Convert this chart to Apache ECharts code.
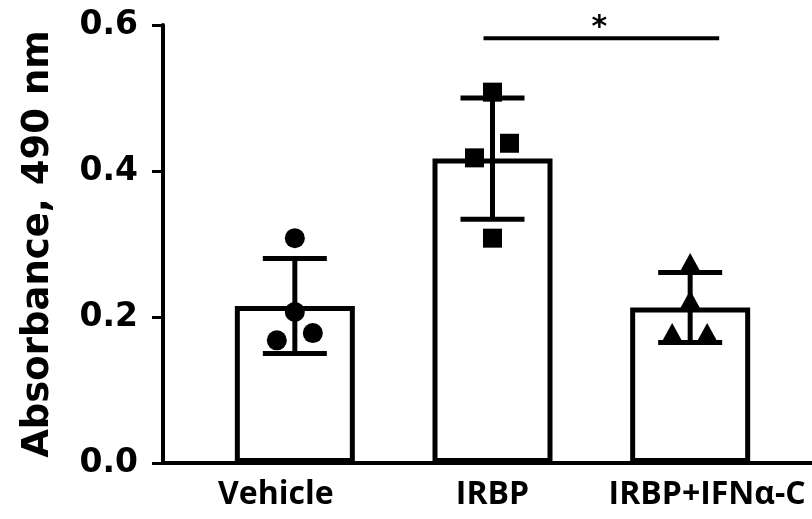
<!DOCTYPE html>
<html lang="en">
  <head>
    <meta charset="UTF-8" />
    <title>absorbance-bars</title>
    <style>
      body {
        margin: 0;
        background: #fff;
      }
      #chart {
        width: 812px;
        height: 519px;
      }
    </style>
    <script src="https://cdn.jsdelivr.net/npm/echarts@6/dist/echarts.min.js"></script>
  </head>
  <body>
    <div id="chart"></div>

    <script>
      // values
      const categories = ["Vehicle", "IRBP", "IRBP+IFNα-C"];
      const means = [0.215, 0.417, 0.213];
      const sds = [0.065, 0.083, 0.048];
      const vehiclePoints = [0.308, 0.207, 0.178, 0.168];
      const irbpPoints = [0.508, 0.438, 0.418, 0.308];
      const ifnPoints = [0.274, 0.223, 0.178, 0.178];
      const yTicks = [0, 0.2, 0.4, 0.6];
      const sigPair = [1, 2];
      const sigLevel = 0.582;
      const sigText = "*";

      // horizontal spread of the dots, px
      const jitter = [
        [0, 0, 18, -18],
        [0, 17, -18, 0],
        [0, 0, -18, 17],
      ];

      const chart = echarts.init(document.getElementById("chart"));

      const pointSeries = (pts, ci, symbol, size) => ({
        type: "scatter",
        xAxisIndex: 1,
        yAxisIndex: 1,
        symbol: symbol,
        symbolSize: size,
        itemStyle: { color: "#000", opacity: 1 },
        z: 5,
        data: pts.map((v, k) => ({
          value: [ci, v],
          symbolOffset: [jitter[ci][k], 0],
        })),
      });

      chart.setOption({
        animation: false,
        grid: [
          { left: 163, right: -100, top: 25, bottom: 56 },
          { left: 196, width: 593, top: 25, bottom: 56 },
        ],
        xAxis: [
          {
            gridIndex: 0,
            type: "value",
            axisLine: { lineStyle: { color: "#000", width: 4 } },
            axisTick: { show: false },
            axisLabel: { show: false },
            splitLine: { show: false },
          },
          {
            gridIndex: 1,
            type: "category",
            data: [
              { value: categories[0], textStyle: { padding: [0, 38, 0, 0] } },
              categories[1],
              { value: categories[2], textStyle: { padding: [0, 0, 0, 34] } },
            ],
            axisLine: { show: false },
            axisTick: {
              alignWithLabel: true,
              length: 13,
              lineStyle: { color: "#000", width: 3 },
            },
            axisLabel: {
              interval: 0,
              hideOverlap: false,
              color: "#000",
              fontFamily: "Open Sans",
              fontWeight: 700,
              fontSize: 32,
              margin: 16,
            },
          },
        ],
        yAxis: [
          {
            gridIndex: 0,
            type: "value",
            min: yTicks[0],
            max: yTicks[yTicks.length - 1],
            interval: 0.2,
            name: "Absorbance, 490 nm",
            nameLocation: "middle",
            nameGap: 106,
            nameTextStyle: {
              color: "#000",
              fontFamily: "DejaVu Sans",
              fontWeight: "bold",
              fontSize: 37,
            },
            axisLine: { show: true, lineStyle: { color: "#000", width: 4 } },
            axisTick: {
              show: true,
              length: 11,
              lineStyle: { color: "#000", width: 3 },
            },
            axisLabel: {
              color: "#000",
              fontFamily: "DejaVu Sans",
              fontWeight: "bold",
              fontSize: 33,
              margin: 25,
              formatter: (v) => v.toFixed(1),
            },
            splitLine: { show: false },
          },
          {
            gridIndex: 1,
            type: "value",
            min: yTicks[0],
            max: yTicks[yTicks.length - 1],
            show: false,
          },
        ],
        series: [
          {
            type: "bar",
            xAxisIndex: 1,
            yAxisIndex: 1,
            barWidth: 120,
            itemStyle: { color: "#fff", borderColor: "#000", borderWidth: 5 },
            data: means,
            z: 2,
          },
          {
            type: "custom",
            xAxisIndex: 1,
            yAxisIndex: 1,
            z: 3,
            data: means.map((m, i) => [i, m, sds[i]]),
            renderItem: (params, api) => {
              const i = api.value(0);
              const m = api.value(1);
              const s = api.value(2);
              const hi = api.coord([i, m + s]);
              const lo = api.coord([i, m - s]);
              const hw = 32;
              const st = { stroke: "#000", lineWidth: 5 };
              return {
                type: "group",
                children: [
                  { type: "line", shape: { x1: hi[0], y1: hi[1], x2: lo[0], y2: lo[1] }, style: st },
                  { type: "line", shape: { x1: hi[0] - hw, y1: hi[1], x2: hi[0] + hw, y2: hi[1] }, style: st },
                  { type: "line", shape: { x1: lo[0] - hw, y1: lo[1], x2: lo[0] + hw, y2: lo[1] }, style: st },
                ],
              };
            },
          },
          pointSeries(vehiclePoints, 0, "circle", 20),
          pointSeries(irbpPoints, 1, "rect", 19),
          pointSeries(ifnPoints, 2, "triangle", [22, 20]),
          {
            type: "custom",
            xAxisIndex: 1,
            yAxisIndex: 1,
            clip: false,
            z: 4,
            data: [[sigPair[0], sigPair[1], sigLevel]],
            renderItem: (params, api) => {
              const a = api.coord([api.value(0), api.value(2)]);
              const b = api.coord([api.value(1), api.value(2)]);
              const x1 = a[0] - 9;
              const x2 = b[0] + 29;
              return {
                type: "group",
                children: [
                  {
                    type: "line",
                    shape: { x1: x1, y1: a[1], x2: x2, y2: a[1] },
                    style: { stroke: "#000", lineWidth: 4 },
                  },
                  {
                    type: "text",
                    x: (x1 + x2) / 2 - 2,
                    y: a[1] - 10,
                    style: {
                      text: sigText,
                      fill: "#000",
                      font: "bold 30px 'DejaVu Sans'",
                      align: "center",
                      verticalAlign: "middle",
                    },
                  },
                ],
              };
            },
          },
        ],
      });
    </script>
  </body>
</html>
